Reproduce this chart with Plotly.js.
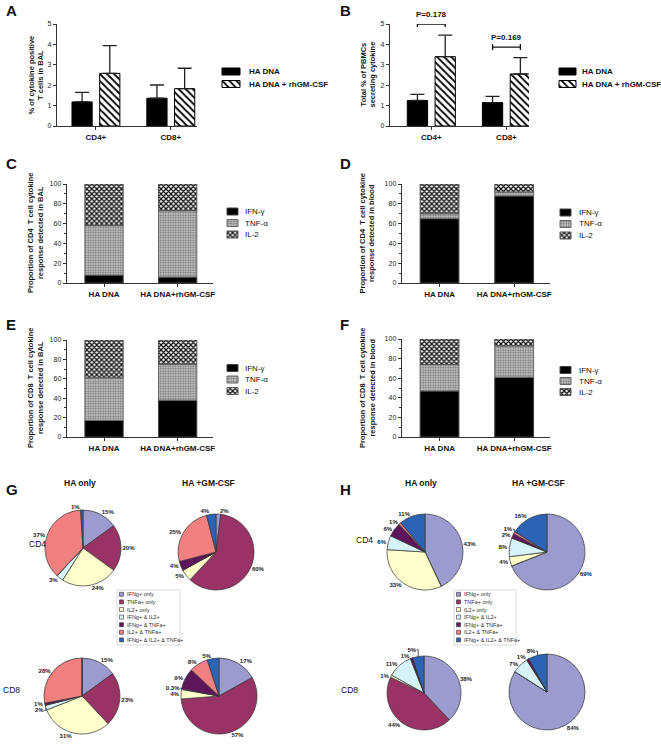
<!DOCTYPE html>
<html><head><meta charset="utf-8">
<script src="https://cdn.plot.ly/plotly-3.0.1.min.js"></script>
<style>html,body{margin:0;padding:0;background:#fff}#chart{width:661px;height:744px}</style>
</head><body><div id="chart"></div>
<script>
// ---------------- data ----------------
const cellTypes = ['CD4+', 'CD8+'];
const balHA = [1.18, 1.36];
const balHAerr = [0.47, 0.65];
const balGM = [2.58, 1.83];
const balGMerr = [1.36, 1.0];
const pbmcHA = [1.25, 1.15];
const pbmcHAerr = [0.3, 0.3];
const pbmcGM = [3.4, 2.55];
const pbmcGMerr = [1.05, 0.8];
const pLabels = ['P=0.178', 'P=0.169'];
const pBracketY = [5.0, 3.87];
const seriesNames = ['HA DNA', 'HA DNA + rhGM-CSF'];

const groups = ['HA DNA', 'HA DNA+rhGM-CSF'];
const cytokines = ['IFN-γ', 'TNF-α', 'IL-2'];
const cd4BalIFN = [8, 6];
const cd4BalTNF = [50, 67];
const cd4BalIL2 = [42, 27];
const cd4BloodIFN = [65, 88];
const cd4BloodTNF = [5, 4];
const cd4BloodIL2 = [30, 8];
const cd8BalIFN = [17, 38];
const cd8BalTNF = [44, 37];
const cd8BalIL2 = [39, 25];
const cd8BloodIFN = [47, 61];
const cd8BloodTNF = [27, 32];
const cd8BloodIL2 = [26, 7];

const pieLabels = ['IFNg+ only', 'TNFa+ only', 'IL2+ only', 'IFNg+ & IL2+', 'IFNg+ & TNFa+', 'IL2+ & TNFa+', 'IFNg+ & IL2+ & TNFa+'];
const pieTitles = ['HA only', 'HA +GM-CSF'];
const pieRows = ['CD4', 'CD8'];
const gCd4HA = [15, 20, 24, 3, 0, 37, 1];
const gCd4GM = [2, 60, 5, 0, 4, 25, 4];
const gCd8HA = [15, 23, 31, 2, 1, 28, 0];
const gCd8GM = [17, 57, 4, 0.3, 9, 8, 5];
const hCd4HA = [43, 0, 33, 6, 6, 1, 11];
const hCd4GM = [69, 0, 4, 8, 2, 1, 16];
const hCd8HA = [38, 44, 1, 11, 1, 0, 5];
const hCd8GM = [84, 0, 0, 7, 1, 0, 8];

// ---------------- styles ----------------
const FONT = 'Liberation Sans, Arial, sans-serif';
const W = 661, H = 744;
const px = x => x / W;
const py = y => 1 - y / H;
const pieColors = ['#9b9bcf', '#993366', '#ffffcc', '#d6f3f7', '#5c1659', '#f38080', '#2d63b4'];
const AX = {showline: true, linecolor: '#333', linewidth: 1.3, ticks: 'outside', ticklen: 3, tickwidth: 1,
  tickcolor: '#333', showgrid: false, zeroline: false, fixedrange: true};
const barOff = [-0.32, 0.05], barW = 0.27;
const idx = cellTypes.map((c, i) => i);
const gidx = groups.map((g, i) => i);

const seriesStyles = [
  {color: '#000', line: {color: '#000', width: 1}},
  {color: '#fff', line: {color: '#000', width: 1}, pattern: {shape: '\\', fgcolor: '#000', bgcolor: '#fff', size: 5, solidity: 0.35}}
];
const cytoStyles = [
  {color: '#000', line: {color: '#444', width: 1}},
  {color: '#ccc', line: {color: '#666', width: 1}, pattern: {shape: '.', fgcolor: '#777', bgcolor: '#d4d4d4', size: 2.5, solidity: 0.5}},
  {color: '#fff', line: {color: '#555', width: 1}, pattern: {shape: 'x', fgcolor: '#111', bgcolor: '#fff', size: 3.5, solidity: 0.6}}
];

const traces = [];
const layout = {
  width: W, height: H, margin: {l: 0, r: 0, t: 0, b: 0}, paper_bgcolor: '#fff', plot_bgcolor: 'rgba(0,0,0,0)',
  barmode: 'overlay', font: {family: FONT, color: '#111'}, showlegend: false,
  annotations: [], shapes: []
};
// overlay pixel axis used only for legend keys
layout.xaxis7 = {domain: [0, 1], range: [0, W], visible: false, fixedrange: true, anchor: 'y7'};
layout.yaxis7 = {domain: [0, 1], range: [H, 0], visible: false, fixedrange: true, anchor: 'x7'};

function xAxisDef(d0, d1, anchor, range, vals, text) {
  return Object.assign({}, AX, {domain: [px(d0), px(d1)], anchor: anchor, range: range, tickvals: vals, ticktext: text,
    tickfont: {size: 8, family: FONT, weight: 'bold', color: '#111'}});
}
function yAxisDef(t, b, anchor, range, dtick, minor) {
  const a = Object.assign({}, AX, {domain: [py(b), py(t)], anchor: anchor, range: range, dtick: dtick,
    tickfont: {size: 7, family: FONT, color: '#222'}});
  if (minor) a.minor = {dtick: minor, ticklen: 2, ticks: 'outside', tickcolor: '#333'};
  return a;
}
function ytitle(text, x, y) {
  layout.annotations.push({text: text, x: px(x), y: py(y), xref: 'paper', yref: 'paper', xanchor: 'center', yanchor: 'middle',
    textangle: -90, showarrow: false, font: {size: 7.5, family: FONT, weight: 'bold', color: '#111'}});
}
function label(text, x, y, size, bold, anchor) {
  layout.annotations.push({text: text, x: px(x), y: py(y), xref: 'paper', yref: 'paper', xanchor: anchor || 'center', yanchor: 'middle',
    showarrow: false, font: {size: size, family: FONT, weight: bold ? 'bold' : 'normal', color: '#111'}});
}
// compact legend: key drawn on the overlay pixel axis, text as annotation
function legendBox(names, styles, x0, x1, ys, tx, bold) {
  names.forEach((n, i) => {
    const st = styles[i], y0 = ys[i] - 3.5, y1 = ys[i] + 3.5;
    const t = {type: 'scatter', xaxis: 'x7', yaxis: 'y7', mode: 'lines', fill: 'toself', showlegend: false, hoverinfo: 'none',
      x: [x0, x1, x1, x0, x0], y: [y0, y0, y1, y1, y0], fillcolor: st.pattern ? st.pattern.bgcolor : st.color,
      line: {color: st.line.color, width: 1}};
    if (st.pattern) t.fillpattern = Object.assign({}, st.pattern);
    traces.push(t);
    label(n, tx, ys[i], 8, bold, 'left');
  });
}

// ---------- A & B : grouped bars with error bars ----------
function errBars(vals, errs, xa, ya) {
  vals.forEach((v, k) => {
    traces.push({type: 'bar', x: idx, y: v, offset: barOff[k], width: barW, name: seriesNames[k],
      xaxis: xa, yaxis: ya, hoverinfo: 'none', marker: seriesStyles[k],
      error_y: {type: 'data', symmetric: false, array: errs[k], arrayminus: errs[k].map(() => 0),
        color: '#222', thickness: 1.3, width: 7}});
  });
}
errBars([balHA, balGM], [balHAerr, balGMerr], 'x', 'y');
errBars([pbmcHA, pbmcGM], [pbmcHAerr, pbmcGMerr], 'x2', 'y2');
layout.xaxis = xAxisDef(57, 197, 'y', [-0.52, 1.35], idx, cellTypes);
layout.yaxis = yAxisDef(24, 126, 'x', [0, 5], 1);
layout.xaxis2 = xAxisDef(390, 529, 'y2', [-0.55, 1.3], idx, cellTypes);
layout.yaxis2 = yAxisDef(24, 126, 'x2', [0, 5], 1);
legendBox(seriesNames, seriesStyles, 222, 240, [71.5, 84], 247, true);
legendBox(seriesNames, seriesStyles, 559, 576, [71.5, 84], 580, true);

// P-value brackets
const c0 = barOff[0] + barW / 2, c1 = barOff[1] + barW / 2;
pLabels.forEach((t, i) => {
  const yb = pBracketY[i], d = 0.15;
  traces.push({type: 'scatter', mode: 'lines', xaxis: 'x2', yaxis: 'y2', cliponaxis: false, showlegend: false, hoverinfo: 'none',
    x: [i + c0, i + c0, i + c0, i + c1, i + c1, i + c1], y: [yb - d, yb + d, yb, yb, yb - d, yb + d],
    line: {color: '#111', width: 1.3}});
  layout.annotations.push({text: t, x: i + (c0 + c1) / 2, y: yb, xref: 'x2', yref: 'y2', xanchor: 'center', yanchor: 'bottom',
    yshift: 3, showarrow: false, font: {size: 8, family: FONT, weight: 'bold', color: '#111'}});
});

// ---------- C–F : stacked bars ----------
function stacked(ifn, tnf, il2, n) {
  const vals = [ifn, tnf, il2];
  const bases = [ifn.map(() => 0), ifn.slice(), ifn.map((v, i) => v + tnf[i])];
  vals.forEach((v, k) => {
    traces.push({type: 'bar', x: gidx, y: v, base: bases[k], width: 0.52, name: cytokines[k],
      xaxis: 'x' + n, yaxis: 'y' + n, hoverinfo: 'none', marker: cytoStyles[k]});
  });
}
stacked(cd4BalIFN, cd4BalTNF, cd4BalIL2, 3);
stacked(cd4BloodIFN, cd4BloodTNF, cd4BloodIL2, 4);
stacked(cd8BalIFN, cd8BalTNF, cd8BalIL2, 5);
stacked(cd8BloodIFN, cd8BloodTNF, cd8BloodIL2, 6);
const stackRange = [-0.503, 1.48];
layout.xaxis3 = xAxisDef(67, 213, 'y3', stackRange, gidx, groups);
layout.yaxis3 = yAxisDef(184, 283, 'x3', [0, 100], 20, 10);
layout.xaxis4 = xAxisDef(402, 550, 'y4', stackRange, gidx, groups);
layout.yaxis4 = yAxisDef(184, 283, 'x4', [0, 100], 20, 10);
layout.xaxis5 = xAxisDef(67, 213, 'y5', stackRange, gidx, groups);
layout.yaxis5 = yAxisDef(340, 437, 'x5', [0, 100], 20, 10);
layout.xaxis6 = xAxisDef(402, 550, 'y6', stackRange, gidx, groups);
layout.yaxis6 = yAxisDef(339, 437, 'x6', [0, 100], 20, 10);
legendBox(cytokines, cytoStyles, 227, 238, [211.5, 223, 234.5], 243, false);
legendBox(cytokines, cytoStyles, 560, 571, [212.5, 224, 235.5], 577, false);
legendBox(cytokines, cytoStyles, 227, 238, [368, 379.5, 391], 243, false);
legendBox(cytokines, cytoStyles, 560, 571, [370, 381, 392], 577, false);

// axis titles
ytitle('% of cytokine positive<br>T cells in BAL', 35.5, 75);
ytitle('Total % of PBMCs<br>secreting cytokine', 367.5, 75);
ytitle('Proportion of CD4  T cell cytokine<br>response detected in BAL', 35.5, 233.5);
ytitle('Proportion of CD4  T cell cytokine<br>response detected in blood', 367, 233.5);
ytitle('Proportion of CD8  T cell cytokine<br>response detected in BAL', 35.5, 388.5);
ytitle('Proportion of CD8  T cell cytokine<br>response detected in blood', 367, 388);

// panel letters
[['A', 4, 11], ['B', 338, 11], ['C', 4, 163], ['D', 338, 163], ['E', 4, 324], ['F', 338, 324], ['G', 4, 489], ['H', 338, 489]]
  .forEach(p => label(p[0], p[1], p[2], 15, true, 'left'));

// ---------- G & H : pies ----------
function pie(vals, cx, cy, r) {
  traces.push({type: 'pie', values: vals, labels: pieLabels, sort: false, direction: 'clockwise', rotation: 0,
    text: vals.map(v => v > 0 ? v + '%' : ''), textinfo: 'text', textposition: 'outside',
    outsidetextfont: {size: 6, family: FONT, weight: 'bold', color: '#222'},
    domain: {x: [px(cx - r), px(cx + r)], y: [py(cy + r), py(cy - r)]},
    marker: {colors: pieColors, line: {color: '#333', width: 0.7}}, showlegend: false, hoverinfo: 'none'});
}
pie(gCd4HA, 83, 548, 38);
pie(gCd4GM, 216, 552, 38);
pie(gCd8HA, 82, 696, 38);
pie(gCd8GM, 219, 696, 38);
pie(hCd4HA, 425, 552, 38);
pie(hCd4GM, 547, 552, 38);
pie(hCd8HA, 424, 693, 37);
pie(hCd8GM, 547, 692, 38);

label(pieTitles[0], 80, 483, 8.5, true);
label(pieTitles[1], 208, 483, 8.5, true);
label(pieTitles[0], 421, 483, 8.5, true);
label(pieTitles[1], 538, 483, 8.5, true);
label(pieRows[0], 37, 544, 8.5, false);
label(pieRows[1], 11, 690, 8.5, false);
label(pieRows[0], 364, 540, 8.5, false);
label(pieRows[1], 349, 690, 8.5, false);

// compact pie legends
function pieLegend(x0, x1, y0, y1) {
  layout.shapes.push({type: 'rect', xref: 'paper', yref: 'paper', x0: px(x0), x1: px(x1), y0: py(y1), y1: py(y0),
    line: {color: '#c8c8c8', width: 0.7}, fillcolor: '#fff', layer: 'below'});
  pieLabels.forEach((t, i) => {
    const yc = y0 + 4.3 + i * 7.6;
    layout.shapes.push({type: 'rect', xref: 'paper', yref: 'paper', x0: px(x0 + 2.5), x1: px(x0 + 6.5), y0: py(yc + 2), y1: py(yc - 2),
      line: {color: '#333', width: 0.6}, fillcolor: pieColors[i]});
    layout.annotations.push({text: t, x: px(x0 + 8), y: py(yc), xref: 'paper', yref: 'paper', xanchor: 'left', yanchor: 'middle',
      showarrow: false, font: {size: 5.5, family: FONT, color: '#333'}});
  });
}
pieLegend(117, 180, 590, 645);
pieLegend(454, 516, 590, 645);

Plotly.newPlot('chart', traces, layout, {staticPlot: true, displayModeBar: false});
</script>
</body></html>
